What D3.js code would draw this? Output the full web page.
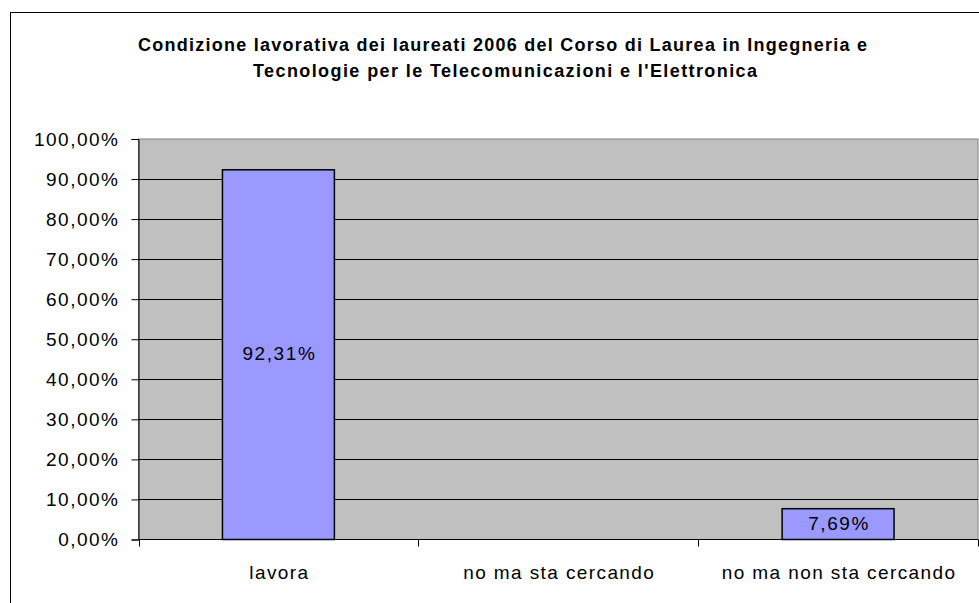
<!DOCTYPE html>
<html>
<head>
<meta charset="utf-8">
<script src="https://cdn.jsdelivr.net/npm/d3@7"></script>
<style>
  body { margin: 0; background: #fff; }
  svg { display: block; font-family: "Liberation Sans", Arial, sans-serif; }
</style>
</head>
<body>
<div id="chart"></div>
<script>
// dati
const categories = ["lavora", "no ma sta cercando", "no ma non sta cercando"];
const values = [0.9231, 0, 0.0769];
const yTicks = [0, 0.1, 0.2, 0.3, 0.4, 0.5, 0.6, 0.7, 0.8, 0.9, 1.0];
const titleLines = [
  "Condizione lavorativa dei laureati 2006 del Corso di Laurea in Ingegneria e",
  "Tecnologie per le Telecomunicazioni e l'Elettronica"
];
const titleWidths = [729, 504]; // larghezza delle righe del titolo

const width = 979, height = 603;
const margin = { top: 139, right: 1, bottom: 63.5, left: 138.5 };

const svg = d3.select("#chart").append("svg")
  .attr("width", width)
  .attr("height", height);

// bordo del grafico
svg.append("rect")
  .attr("x", 10.5).attr("y", 12.5)
  .attr("width", 990).attr("height", 620)
  .attr("fill", "#fff").attr("stroke", "#000").attr("stroke-width", 1);

// titolo
svg.selectAll(".title")
  .data(titleLines)
  .enter()
  .append("text")
  .attr("class", "title")
  .attr("x", (d, i) => i === 0 ? 502.5 : 505)
  .attr("y", (d, i) => 51 + i * 26)
  .attr("text-anchor", "middle")
  .attr("textLength", (d, i) => titleWidths[i])
  .attr("lengthAdjust", "spacing")
  .style("font-size", "18px")
  .style("font-weight", "bold")
  .text(d => d);

const x = d3.scaleBand()
  .domain(categories)
  .range([margin.left, width - margin.right])
  .paddingInner(0.6)
  .paddingOuter(0.3);

const xCat = d3.scaleBand()
  .domain(categories)
  .range([margin.left, width - margin.right]);

const y = d3.scaleLinear()
  .domain([0, 1])
  .range([height - margin.bottom, margin.top]);

const fmt = v => d3.format(".2f")(v * 100).replace(".", ",") + "%";

// area del grafico
svg.append("rect")
  .attr("x", margin.left).attr("y", margin.top)
  .attr("width", width - margin.right - margin.left)
  .attr("height", y(0) - y(1))
  .attr("fill", "#C0C0C0")
  .attr("stroke", "#808080")
  .attr("stroke-width", 1);

// griglia
svg.append("g")
  .selectAll("line")
  .data(yTicks.filter(t => t > 0 && t < 1))
  .enter()
  .append("line")
  .attr("x1", margin.left).attr("x2", width - margin.right)
  .attr("y1", d => Math.round(y(d)) + 0.5)
  .attr("y2", d => Math.round(y(d)) + 0.5)
  .attr("stroke", "#000");

// asse y
const yAxis = svg.append("g")
  .attr("transform", `translate(${margin.left},0)`)
  .call(d3.axisLeft(y).tickValues(yTicks).tickFormat(fmt).tickSize(7).tickPadding(12));
yAxis.select(".domain").attr("stroke", "#000");
yAxis.selectAll("text")
  .style("font-size", "19px")
  .style("letter-spacing", "1.5px")
  .style("fill", "#000")
  .style("font-family", "'Liberation Sans', Arial, sans-serif");

// asse x
const xAxisG = svg.append("g")
  .attr("transform", `translate(0,${y(0)})`);
xAxisG.append("line")
  .attr("x1", margin.left).attr("x2", width - margin.right)
  .attr("stroke", "#000");
xAxisG.selectAll(".tick")
  .data(categories.map(c => xCat(c)).concat([width - margin.right]))
  .enter()
  .append("line")
  .attr("x1", d => Math.round(d) + 0.5).attr("x2", d => Math.round(d) + 0.5)
  .attr("y1", 0).attr("y2", 7)
  .attr("stroke", "#000");
xAxisG.selectAll(".lbl")
  .data(categories)
  .enter()
  .append("text")
  .attr("x", d => xCat(d) + xCat.bandwidth() / 2 + 1)
  .attr("y", 39.5)
  .attr("text-anchor", "middle")
  .style("font-size", "19px")
  .style("letter-spacing", "1.4px")
  .text(d => d);

// barre
const bars = values.map((v, i) => ({ cat: categories[i], v })).filter(d => d.v > 0);
svg.append("g")
  .selectAll("rect")
  .data(bars)
  .enter()
  .append("rect")
  .attr("x", d => x(d.cat))
  .attr("y", d => y(d.v))
  .attr("width", x.bandwidth())
  .attr("height", d => y(0) - y(d.v))
  .attr("fill", "#9999FF")
  .attr("stroke", "#000")
  .attr("stroke-width", 1.5);

// etichette
svg.append("g")
  .selectAll("text")
  .data(bars)
  .enter()
  .append("text")
  .attr("x", d => x(d.cat) + x.bandwidth() / 2 + 1)
  .attr("y", d => (y(d.v) + y(0)) / 2 + 5.5)
  .attr("text-anchor", "middle")
  .style("font-size", "19px")
  .style("letter-spacing", "1.6px")
  .text(d => fmt(d.v));
</script>
</body>
</html>
